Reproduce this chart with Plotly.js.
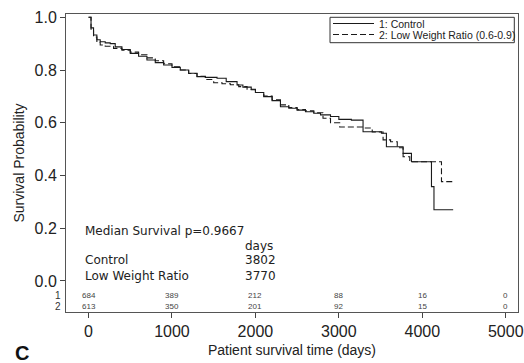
<!DOCTYPE html>
<html>
<head>
<meta charset="utf-8">
<script src="https://cdn.plot.ly/plotly-3.0.1.min.js"></script>
<style>html,body{margin:0;padding:0;background:#fff;}#chart{width:524px;height:363px;}</style>
</head>
<body>
<div id="chart"></div>
<script>
// Kaplan-Meier step data
const controlDays = [0, 30, 60, 100, 140, 200, 260, 320, 400, 500, 600, 700, 800, 900, 1000, 1100, 1200, 1300, 1400, 1540, 1650, 1780, 1850, 1950, 2000, 2100, 2200, 2300, 2400, 2500, 2600, 2700, 2780, 2900, 3000, 3150, 3290, 3510, 3570, 3770, 3810, 3870, 4110, 4140, 4370];
const controlSurv = [1.0, 0.96, 0.933, 0.915, 0.907, 0.903, 0.90, 0.888, 0.878, 0.863, 0.852, 0.838, 0.828, 0.819, 0.81, 0.80, 0.788, 0.775, 0.772, 0.769, 0.756, 0.743, 0.735, 0.725, 0.715, 0.699, 0.684, 0.661, 0.655, 0.648, 0.642, 0.636, 0.63, 0.624, 0.613, 0.61, 0.566, 0.56, 0.509, 0.484, 0.484, 0.452, 0.358, 0.27, 0.27];

const lowDays = [0, 30, 60, 100, 140, 200, 300, 400, 500, 600, 700, 800, 900, 1000, 1100, 1200, 1300, 1400, 1500, 1600, 1700, 1800, 1900, 2000, 2100, 2200, 2300, 2400, 2500, 2600, 2700, 2810, 2900, 3010, 3290, 3400, 3530, 3620, 3700, 3770, 3850, 4230, 4390];
const lowSurv = [1.0, 0.955, 0.925, 0.905, 0.895, 0.89, 0.882, 0.875, 0.868, 0.858, 0.846, 0.835, 0.824, 0.812, 0.80, 0.787, 0.776, 0.764, 0.752, 0.748, 0.744, 0.737, 0.727, 0.715, 0.701, 0.687, 0.668, 0.658, 0.65, 0.645, 0.638, 0.617, 0.60, 0.584, 0.58, 0.565, 0.535, 0.528, 0.505, 0.471, 0.452, 0.377, 0.377];

const seriesNames = ["1: Control", "2: Low Weight Ratio (0.6-0.9)"];

// number at risk table
const riskTimes = [0, 1000, 2000, 3000, 4000, 5000];
const riskControl = [684, 389, 212, 88, 16, 0];
const riskLow = [613, 350, 201, 92, 15, 0];
const riskLabels = ["1", "2"];

// median survival table
const medianTitle = "Median Survival p=0.9667";
const medianGroups = ["Control", "Low Weight Ratio"];
const medianDays = [3802, 3770];

const xTicks = [0, 1000, 2000, 3000, 4000, 5000];
const yTicks = [0, 0.2, 0.4, 0.6, 0.8, 1.0];
const yTickText = ["0.0", "0.2", "0.4", "0.6", "0.8", "1.0"];

// plot-area geometry in pixels (for converting legend / label pixel spots to paper coords)
const W = 524, H = 363, ML = 66, MR = 6, MT = 14, MB = 51;
const PW = W - ML - MR, PH = H - MT - MB;
const px = v => (v - ML) / PW;
const py = v => (H - MB - v) / PH;

const ink = "#1a1a1a";
const dashes = ["solid", "6px,3px"];
const traces = [
  {x: controlDays, y: controlSurv, name: seriesNames[0], mode: "lines", showlegend: false,
   line: {shape: "hv", color: ink, width: 1.1, dash: dashes[0]}},
  {x: lowDays, y: lowSurv, name: seriesNames[1], mode: "lines", showlegend: false,
   line: {shape: "hv", color: ink, width: 1.1, dash: dashes[1]}}
];

const annFont = {family: "DejaVu Sans, Verdana, sans-serif", size: 12, color: "#222"};
const anns = [];
anns.push({x: -67, y: 0.1907, xref: "x", yref: "y", text: medianTitle, showarrow: false, xanchor: "left", yanchor: "middle", font: annFont});
anns.push({x: 1852, y: 0.134, xref: "x", yref: "y", text: "days", showarrow: false, xanchor: "left", yanchor: "middle", font: annFont});
const medY = [0.0796, 0.020];
medianGroups.forEach((g, i) => {
  anns.push({x: -67, y: medY[i], xref: "x", yref: "y", text: g, showarrow: false, xanchor: "left", yanchor: "middle", font: annFont});
  anns.push({x: 1852, y: medY[i], xref: "x", yref: "y", text: String(medianDays[i]), showarrow: false, xanchor: "left", yanchor: "middle", font: annFont});
});
const riskFont = {family: "Arial, Liberation Sans, sans-serif", size: 8, color: "#444"};
const riskRows = [riskControl, riskLow];
const riskY = [-0.0557, -0.0986];
riskRows.forEach((row, r) => {
  row.forEach((v, i) => {
    anns.push({x: riskTimes[i], y: riskY[r], xref: "x", yref: "y", text: String(v), showarrow: false, xanchor: "center", yanchor: "middle", font: riskFont});
  });
  anns.push({x: px(63), y: riskY[r], xref: "paper", yref: "y", text: riskLabels[r], showarrow: false, xanchor: "right", yanchor: "middle", font: {family: "Arial, Liberation Sans, sans-serif", size: 10, color: "#333"}});
});
anns.push({x: px(22), y: py(353), xref: "paper", yref: "paper", text: "<b>C</b>", showarrow: false, xanchor: "center", yanchor: "middle", font: {family: "Arial, Liberation Sans, sans-serif", size: 20, color: "#111"}});

// legend drawn as a framed key
const legFont = {family: "Arial, Liberation Sans, sans-serif", size: 10.5, color: "#222"};
const legRowY = [23.5, 34.5];
const shapes = [
  {type: "rect", xref: "paper", yref: "paper", x0: px(330), x1: px(514.3), y0: py(17.3), y1: py(42.7), line: {color: "#333", width: 1}, fillcolor: "#fff", layer: "above"}
];
seriesNames.forEach((n, i) => {
  shapes.push({type: "line", xref: "paper", yref: "paper", x0: px(333), x1: px(374), y0: py(legRowY[i]), y1: py(legRowY[i]), line: {color: ink, width: 1.1, dash: dashes[i]}, layer: "above"});
  anns.push({x: px(376.5), y: py(legRowY[i]), xref: "paper", yref: "paper", text: n, showarrow: false, xanchor: "left", yanchor: "middle", font: legFont});
});

const axisFont = {family: "Arial, Liberation Sans, sans-serif", size: 16, color: "#222"};
const layout = {
  width: W, height: H,
  margin: {l: ML, r: MR, t: MT, b: MB, pad: 0},
  paper_bgcolor: "#fff", plot_bgcolor: "#fff",
  showlegend: false,
  xaxis: {range: [-270, 5147], tickvals: xTicks, ticktext: xTicks.map(String), ticks: "outside", ticklen: 5,
          tickcolor: "#444", showgrid: false, zeroline: false, showline: true, mirror: true, linecolor: "#555",
          linewidth: 1, tickfont: axisFont,
          title: {text: "Patient survival time (days)", font: {family: "Arial, Liberation Sans, sans-serif", size: 14, color: "#222"}, standoff: 5}},
  yaxis: {range: [-0.1176, 1.0125], tickvals: yTicks, ticktext: yTickText, ticks: "outside", ticklen: 5,
          tickcolor: "#444", showgrid: false, zeroline: false, showline: true, mirror: true, linecolor: "#555",
          linewidth: 1, tickfont: axisFont,
          title: {text: "Survival Probability", font: {family: "Arial, Liberation Sans, sans-serif", size: 14, color: "#222"}, standoff: 6}},
  shapes: shapes,
  annotations: anns
};
Plotly.newPlot("chart", traces, layout, {displayModeBar: false, staticPlot: true});
</script>
</body>
</html>
